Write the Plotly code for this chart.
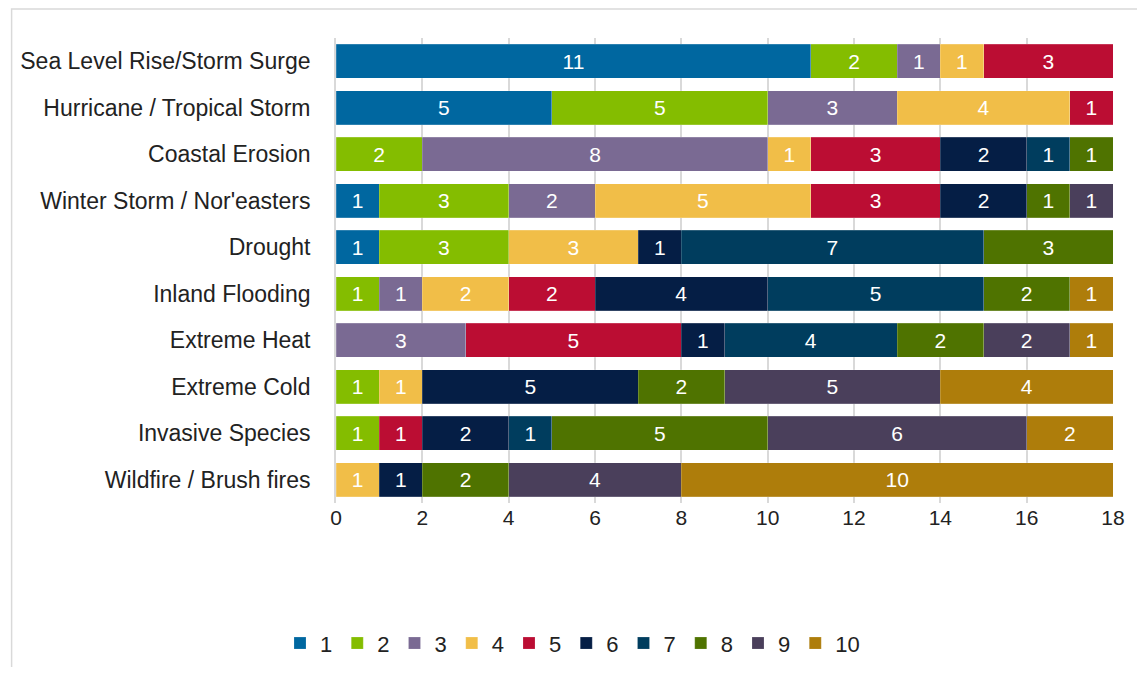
import plotly.graph_objects as go

hazards = [
    "Sea Level Rise/Storm Surge",
    "Hurricane / Tropical Storm",
    "Coastal Erosion",
    "Winter Storm / Nor'easters",
    "Drought",
    "Inland Flooding",
    "Extreme Heat",
    "Extreme Cold",
    "Invasive Species",
    "Wildfire / Brush fires",
]

rank_1 = [11, 5, 0, 1, 1, 0, 0, 0, 0, 0]
rank_2 = [2, 5, 2, 3, 3, 1, 0, 1, 1, 0]
rank_3 = [1, 3, 8, 2, 0, 1, 3, 0, 0, 0]
rank_4 = [1, 4, 1, 5, 3, 2, 0, 1, 0, 1]
rank_5 = [3, 1, 3, 3, 0, 2, 5, 0, 1, 0]
rank_6 = [0, 0, 2, 2, 1, 4, 1, 5, 2, 1]
rank_7 = [0, 0, 1, 0, 7, 5, 4, 0, 1, 0]
rank_8 = [0, 0, 1, 1, 3, 2, 2, 2, 5, 2]
rank_9 = [0, 0, 0, 1, 0, 0, 2, 5, 6, 4]
rank_10 = [0, 0, 0, 0, 0, 1, 1, 4, 2, 10]

series = [rank_1, rank_2, rank_3, rank_4, rank_5,
          rank_6, rank_7, rank_8, rank_9, rank_10]
names = ["1", "2", "3", "4", "5", "6", "7", "8", "9", "10"]
colors = ["#0067a0", "#84bd00", "#7a6a93", "#f1be48", "#bb0d33",
          "#051e45", "#003d5e", "#4f7300", "#4a3f5b", "#ae7d0b"]

FONT = "Liberation Sans"

fig = go.Figure()
for name, vals, color in zip(names, series, colors):
    x = [v if v else None for v in vals]
    fig.add_trace(go.Bar(
        y=hazards, x=x, name=name, orientation="h",
        marker={"color": color, "line": {"color": "rgba(255,255,255,0.35)", "width": 0.5}},
        text=[str(v) if v else "" for v in vals],
        textposition="inside", insidetextanchor="middle",
        textfont={"color": "white", "size": 21, "family": FONT},
        hoverinfo="x+y+name",
    ))

# page body has an 8px margin, so the figure is sized to fit inside it
fig.update_layout(
    barmode="stack",
    bargap=0.27,
    width=1129, height=659,
    paper_bgcolor="white", plot_bgcolor="white",
    margin={"l": 328, "r": 16, "t": 30, "b": 164},
    font={"family": FONT, "size": 20, "color": "#222222"},
    uniformtext={"minsize": 21, "mode": "show"},
    legend={
        "orientation": "h", "xref": "container", "yref": "container",
        "x": 0.5, "xanchor": "center", "y": 0.036, "yanchor": "middle",
        "font": {"size": 22, "color": "#222222"},
        "itemwidth": 30, "traceorder": "normal", "tracegroupgap": 0,
    },
    shapes=[{
        "type": "rect", "xref": "paper", "yref": "paper",
        "x0": -0.4175, "x1": 1.1, "y0": -0.5, "y1": 1.0624,
        "line": {"color": "#d9d9d9", "width": 1.5}, "fillcolor": "rgba(0,0,0,0)",
        "layer": "below",
    }],
)
fig.update_xaxes(
    range=[0, 18], dtick=2, showgrid=True, gridcolor="#d9d9d9", gridwidth=1.5,
    zeroline=False, ticks="", tickfont={"size": 21}, fixedrange=True,
)
fig.update_yaxes(
    autorange="reversed", showline=True, linecolor="#d9d9d9", linewidth=1.5,
    ticks="", ticksuffix="   ", tickfont={"size": 23},
)

fig.write_html("out.html")
